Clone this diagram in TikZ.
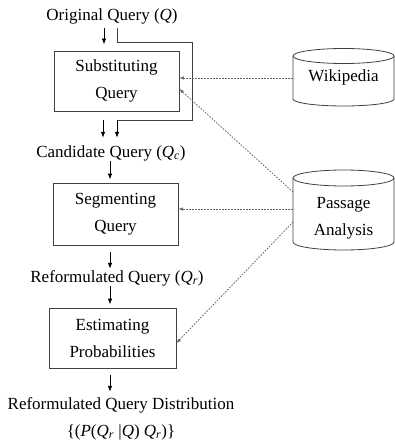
\documentclass[tikz,border=0pt]{standalone}
\usepackage{fontspec}
\setmainfont{Liberation Serif}
\usetikzlibrary{arrows.meta}
\begin{document}
\begin{tikzpicture}[x=1pt,y=-1pt,
  font=\fontsize{17}{27}\selectfont,
  lbl/.style={inner sep=0pt, text height=12pt, text depth=4pt},
  procbox/.style={draw=black!75, line width=0.8pt, align=center, inner sep=0pt},
  flow/.style={-{Latex[length=6pt,width=4.5pt]}, line width=0.8pt},
  feed/.style={draw=black!60, line width=0.8pt, dash pattern=on 1.6pt off 1.4pt,
               -{Latex[length=4.5pt,width=3.5pt]}},
  store/.style={draw=black!75, line width=0.8pt}]
\useasboundingbox (0,0) rectangle (395,441);

% main pipeline
\node[lbl] (orig) at (112,17) {Original Query (\textit{Q})};
\node[procbox, minimum width=125pt, minimum height=60pt] (sub) at (116.5,81) {Substituting\\Query};
\node[lbl] (cand) at (111,153) {Candidate Query (\textit{Q}\textsubscript{\textit{c}})};
\node[procbox, minimum width=125pt, minimum height=62pt] (seg) at (115.5,214) {Segmenting\\Query};
\node[lbl] (ref) at (117,278) {Reformulated Query (\textit{Q}\textsubscript{\textit{r}})};
\node[procbox, minimum width=127pt, minimum height=60pt] (est) at (112.5,338) {Estimating\\Probabilities};
\node[lbl] (dist) at (121,405) {Reformulated Query Distribution};
\node[lbl] (prob) at (121,432) {\{(\textit{P}(\textit{Q}\textsubscript{\textit{r}} |\textit{Q}) \textit{Q}\textsubscript{\textit{r}})\}};

% external resources (cylinders)
\draw[store] (343.5,56) ellipse [x radius=50.5pt, y radius=7.5pt];
\draw[store] (293,56) -- (293,99)
  .. controls (293,102.87) and (315.6,106) .. (343.5,106)
  .. controls (371.4,106) and (394,102.87) .. (394,99) -- (394,56);
\node[lbl] (wiki) at (343.5,78) {Wikipedia};

\draw[store] (343.5,178) ellipse [x radius=50.5pt, y radius=8pt];
\draw[store] (293,178) -- (293,242)
  .. controls (293,246.42) and (315.6,250) .. (343.5,250)
  .. controls (371.4,250) and (394,246.42) .. (394,242) -- (394,178);
\node[align=center, inner sep=0pt] (pass) at (343.5,218) {Passage\\Analysis};

\coordinate (wL)  at (293,78);
\coordinate (pL1) at (293,192);
\coordinate (pL2) at (293,209);
\coordinate (pL3) at (293,222);

% loop around the substitution step
\coordinate (a1) at (104,0);
\coordinate (a2) at (117,0);
\coordinate (lpA) at (117,42);
\coordinate (lpB) at (192,42);
\coordinate (lpC) at (192,120);
\coordinate (lpD) at (117,120);
\coordinate (lpE) at (103,120);

\draw[flow, shorten <=3pt, shorten >=6pt] (orig.south -| a1) -- (sub.north -| a1);
\draw[line width=0.8pt, draw=black!75, shorten <=3pt] (orig.south -| a2) -- (lpA) -- (lpB) -- (lpC) -- (lpD);
\draw[flow, shorten >=7pt] (lpD) -- (cand.north -| lpD);
\draw[flow, shorten >=7pt] (lpE) -- (cand.north -| lpE);

\coordinate (a3) at (110,0);
\draw[flow, shorten >=3pt] (cand.south -| a3) -- (seg.north -| a3);
\draw[flow, shorten <=7pt, shorten >=1pt] (seg.south -| a3) -- (ref.north -| a3);
\draw[flow, shorten >=3pt] (ref.south -| a3) -- (est.north -| a3);
\draw[flow, shorten <=7pt, shorten >=5pt] (est.south -| a3) -- (dist.north -| a3);

% resource feeds
\draw[feed] (wL) -- (sub.east |- wL);
\draw[feed] (pL1) -- ([yshift=-8pt]sub.east);
\draw[feed] (pL2) -- (seg.east |- pL2);
\draw[feed] (pL3) -- ([yshift=-5pt]est.east);
\end{tikzpicture}
\end{document}
